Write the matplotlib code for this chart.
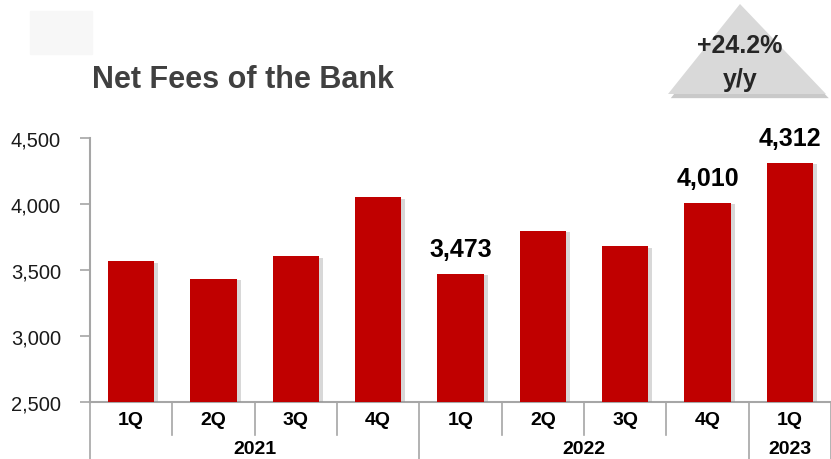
import matplotlib
matplotlib.use("Agg")
import matplotlib.pyplot as plt
import matplotlib.patheffects as pe
from matplotlib.patches import Polygon, Rectangle

# data
quarters = ['1Q', '2Q', '3Q', '4Q', '1Q', '2Q', '3Q', '4Q', '1Q']
years = ['2021', '2022', '2023']
year_spans = [(0, 3), (4, 7), (8, 8)]
net_fees = [3565, 3435, 3605, 4050, 3473, 3795, 3680, 4010, 4312]
labelled = {4: '3,473', 7: '4,010', 8: '4,312'}
yticks = [2500, 3000, 3500, 4000, 4500]
badge_lines = ['+24.2%', 'y/y']

RED = '#C00000'
GRID = '#A6A6A6'
plt.rcParams['font.family'] = ['Liberation Sans', 'DejaVu Sans']

fig = plt.figure(figsize=(8.31, 4.60), dpi=100)
ax = fig.add_axes([90 / 831, 1 - 403 / 460, 1 - 90 / 831, 264 / 460])

x = list(range(len(net_fees)))
bars = ax.bar(x, [v - yticks[0] for v in net_fees], bottom=yticks[0], width=0.56,
              color=RED, zorder=3)
for b in bars:
    b.set_path_effects([pe.SimplePatchShadow(offset=(3, -1), shadow_rgbFace='#909090', alpha=0.35),
                        pe.Normal()])

ax.set_ylim(yticks[0], yticks[-1])
ax.set_xlim(-0.5, len(x) - 0.5)
ax.set_yticks(yticks)
ax.set_yticklabels([f'{t:,}' for t in yticks], fontsize=14.5, color='#1a1a1a')
ax.tick_params(axis='y', length=7, width=1.2, color=GRID, pad=14)
ax.tick_params(axis='x', length=0, labelbottom=False)
for s in ['top', 'right']:
    ax.spines[s].set_visible(False)
for s in ['left', 'bottom']:
    ax.spines[s].set_color(GRID)
    ax.spines[s].set_linewidth(1.5)

# value labels
for i, txt in labelled.items():
    ax.text(i, net_fees[i] + 95, txt, ha='center', va='bottom', fontsize=18,
            fontweight='bold', color='black')

# category axis: quarter labels, year labels, separators
trans = ax.get_xaxis_transform()
for i, q in enumerate(quarters):
    ax.text(i, -0.065, q, transform=trans, ha='center', va='center', fontsize=14,
            fontweight='bold', clip_on=False)
group_edges = {-0.5} | {e + 0.5 for _, e in year_spans}
for i in range(len(x) - 1):
    pos = i + 0.5
    if pos in group_edges:
        continue
    ax.plot([pos, pos], [0, -0.125], transform=trans, color=GRID, lw=1.2, clip_on=False)
for pos in group_edges:
    ax.plot([pos, pos], [0, -0.22], transform=trans, color=GRID, lw=1.2, clip_on=False)
for yr, (s, e) in zip(years, year_spans):
    ax.text((s + e) / 2, -0.178, yr, transform=trans, ha='center', va='center', fontsize=14,
            fontweight='bold', clip_on=False)

# title and decorations
fig.patches.append(Rectangle((30 / 831, 1 - 55 / 460), 62 / 831, 43 / 460,
                             transform=fig.transFigure, color='#F7F7F7', zorder=0))
fig.text(92 / 831, 1 - 80 / 460, 'Net Fees of the Bank', fontsize=22, fontweight='bold',
         color='#404040', va='center', ha='left')

tri = [(740 / 831, 1 - 5 / 460), (668 / 831, 1 - 95 / 460), (826 / 831, 1 - 95 / 460)]
badge = Polygon(tri, closed=True, transform=fig.transFigure, facecolor='#D9D9D9',
                edgecolor='none',
                path_effects=[pe.SimplePatchShadow(offset=(2, -3), shadow_rgbFace='#666666', alpha=0.35),
                              pe.Normal()])
fig.patches.append(badge)
fig.text(740 / 831, 1 - 46 / 460, badge_lines[0], ha='center', va='center', fontsize=18,
         fontweight='bold', color='#262626')
fig.text(740 / 831, 1 - 80 / 460, badge_lines[1], ha='center', va='center', fontsize=18,
         fontweight='bold', color='#262626')

fig.savefig('out.png', dpi=100)
